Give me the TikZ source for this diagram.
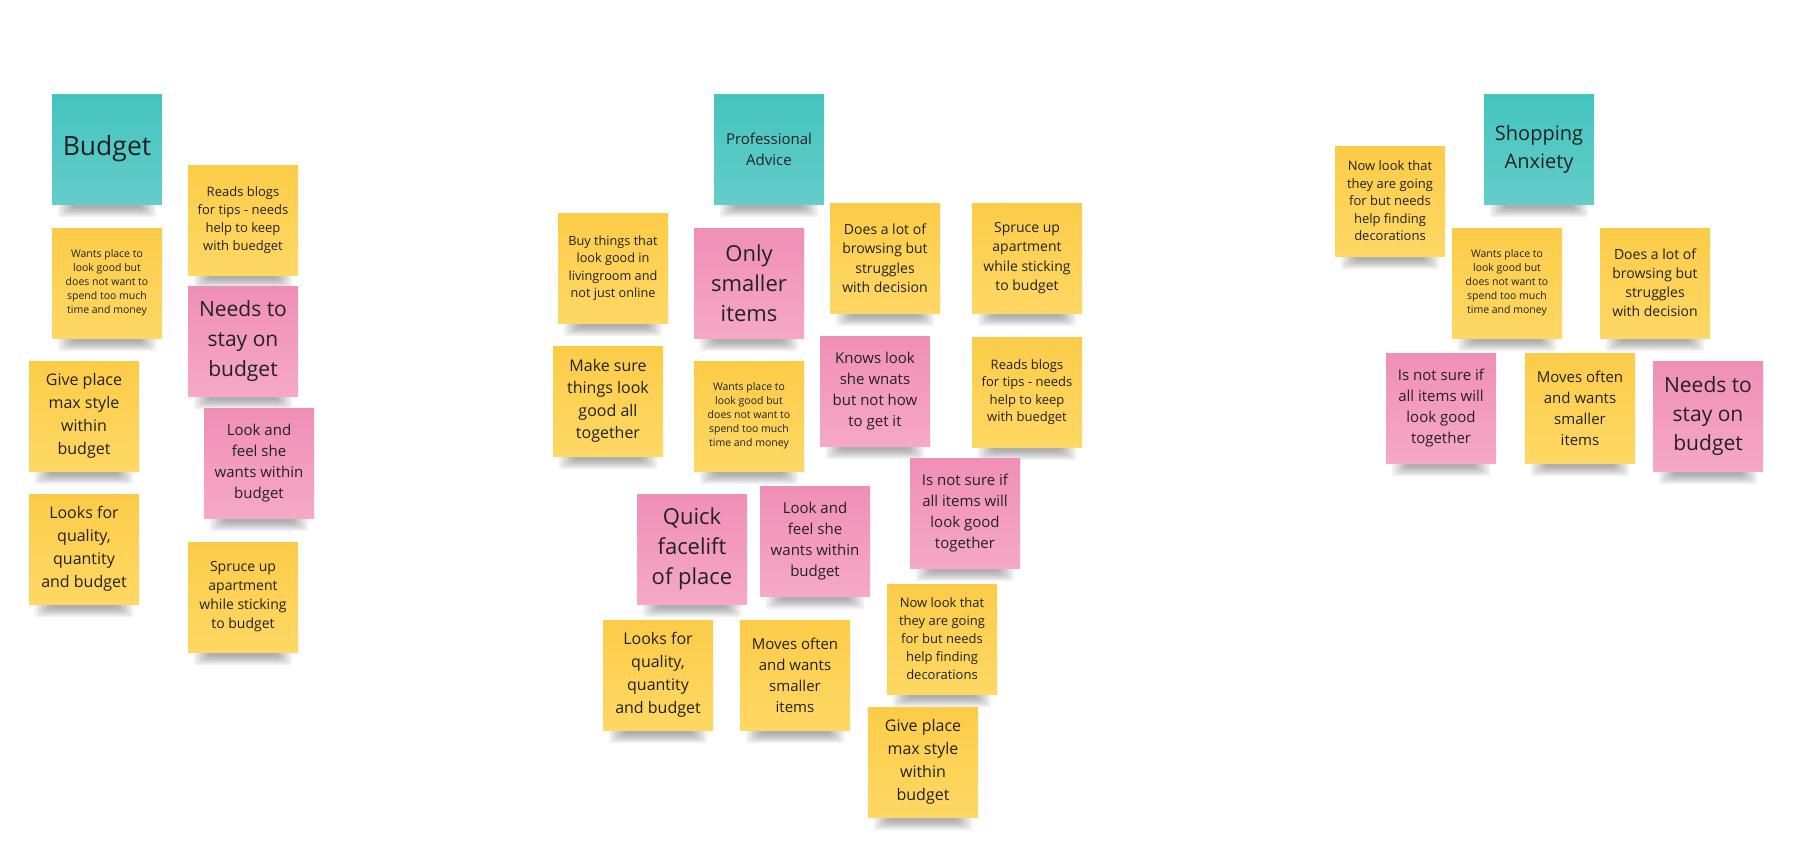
\documentclass[tikz,border=0pt]{standalone}
\usepackage{fontspec}
\setmainfont{Open Sans}
\usetikzlibrary{backgrounds}
\definecolor{ytop}{RGB}{252,204,72}
\definecolor{ybot}{RGB}{254,216,100}
\definecolor{ptop}{RGB}{240,143,182}
\definecolor{pbot}{RGB}{246,168,198}
\definecolor{ttop}{RGB}{68,196,191}
\definecolor{tbot}{RGB}{100,205,201}
\definecolor{txt}{RGB}{34,34,34}
\tikzset{
  note/.style={minimum width=110pt, minimum height=110pt, inner sep=0pt, align=center, text=txt},
  yel/.style={note, top color=ytop, bottom color=ybot},
  pnk/.style={note, top color=ptop, bottom color=pbot},
  tea/.style={note, top color=ttop, bottom color=tbot},
}
\newcommand{\nt}[7]{\node[#2, font=\fontsize{#5}{#6}\selectfont] (#1) at (#3,#4) {#7};}
\newcommand{\nsh}[1]{\foreach \i in {0,...,5}{\fill[black,opacity=0.06,rounded corners=3pt] ([xshift={6+3*\i},yshift=3]#1.south west) rectangle ([xshift={-6-3*\i},yshift={-13+1.8*\i}]#1.south east);}}
\begin{document}
\begin{tikzpicture}[x=1pt,y=-1pt]
\useasboundingbox (0,0) rectangle (1803,862);
% left group
\nt{b1}{tea}{107}{149}{26.5}{32}{Budget}
\nt{b2}{yel}{243}{220}{13}{18}{Reads blogs\\for tips - needs\\help to keep\\with buedget}
\nt{b3}{yel}{107}{283}{10.5}{14}{Wants place to\\look good but\\does not want to\\spend too much\\time and money}
\nt{b4}{pnk}{243}{341}{21}{30}{Needs to\\stay on\\budget}
\nt{b5}{yel}{84}{416}{16}{23}{Give place\\max style\\within\\budget}
\nt{b6}{pnk}{259}{463}{15}{21}{Look and\\feel she\\wants within\\budget}
\nt{b7}{yel}{84}{549}{16}{23}{Looks for\\quality,\\quantity\\and budget}
\nt{b8}{yel}{243}{597}{14}{19}{Spruce up\\apartment\\while sticking\\to budget}
% middle group
\nt{p1}{tea}{769}{149}{15}{21}{Professional\\Advice}
\nt{p2}{yel}{613}{268}{12.7}{17.5}{Buy things that\\look good in\\livingroom and\\not just online}
\nt{p3}{pnk}{749}{283}{22}{30}{Only\\smaller\\items}
\nt{p4}{yel}{885}{258}{14}{19.5}{Does a lot of\\browsing but\\struggles\\with decision}
\nt{p5}{yel}{1027}{258}{14}{19.5}{Spruce up\\apartment\\while sticking\\to budget}
\nt{p6}{yel}{608}{401}{16}{22.5}{Make sure\\things look\\good all\\together}
\nt{p7}{yel}{749}{416}{10.5}{14}{Wants place to\\look good but\\does not want to\\spend too much\\time and money}
\nt{p8}{pnk}{875}{391}{15}{21}{Knows look\\she wnats\\but not how\\to get it}
\nt{p9}{yel}{1027}{392}{13}{17.5}{Reads blogs\\for tips - needs\\help to keep\\with buedget}
\nt{p10}{pnk}{965}{513}{15}{21}{Is not sure if\\all items will\\look good\\together}
\nt{p11}{pnk}{692}{549}{22}{30}{Quick\\facelift\\of place}
\nt{p12}{pnk}{815}{541}{15}{21}{Look and\\feel she\\wants within\\budget}
\nt{p13}{yel}{942}{639}{13}{18}{Now look that\\they are going\\for but needs\\help finding\\decorations}
\nt{p14}{yel}{658}{675}{16}{23}{Looks for\\quality,\\quantity\\and budget}
\nt{p15}{yel}{795}{675}{15}{21}{Moves often\\and wants\\smaller\\items}
\nt{p16}{yel}{923}{762}{16}{23}{Give place\\max style\\within\\budget}
% right group
\nt{s1}{tea}{1539}{149}{20}{28}{Shopping\\Anxiety}
\nt{s2}{yel}{1390}{201}{13}{17.5}{Now look that\\they are going\\for but needs\\help finding\\decorations}
\nt{s3}{yel}{1507}{283}{10.5}{14}{Wants place to\\look good but\\does not want to\\spend too much\\time and money}
\nt{s4}{yel}{1655}{283}{14}{19}{Does a lot of\\browsing but\\struggles\\with decision}
\nt{s5}{pnk}{1441}{408}{15}{21}{Is not sure if\\all items will\\look good\\together}
\nt{s6}{yel}{1580}{408}{15}{21}{Moves often\\and wants\\smaller\\items}
\nt{s7}{pnk}{1708}{416}{21}{29}{Needs to\\stay on\\budget}
\begin{scope}[on background layer]
\fill[white] (0,0) rectangle (1803,862);
\foreach \n in {b1,b2,b3,b4,b5,b6,b7,b8,p1,p2,p3,p4,p5,p6,p7,p8,p9,p10,p11,p12,p13,p14,p15,p16,s1,s2,s3,s4,s5,s6,s7}{\nsh{\n}}
\end{scope}
\end{tikzpicture}
\end{document}
